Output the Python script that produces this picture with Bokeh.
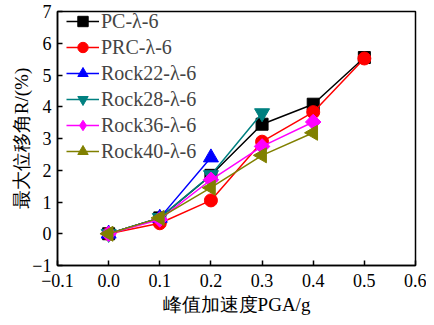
import math
from bokeh.plotting import figure
from bokeh.embed import file_html
from bokeh.resources import INLINE
from bokeh.models import FixedTicker, Range1d, Legend, LegendItem

pga = [0.0, 0.1, 0.2, 0.3, 0.4, 0.5]
pc = [0.0, 0.50, 1.84, 3.45, 4.08, 5.55]
prc = [0.0, 0.33, 1.05, 2.90, 3.83, 5.52]
rock22 = [0.0, 0.50, 2.40]
rock28 = [0.0, 0.50, 1.85, 3.80]
rock36 = [0.0, 0.45, 1.70, 2.75, 3.52]
rock40 = [0.0, 0.50, 1.45, 2.47, 3.18]

# name, values, colour, marker, size, angle, legend marker (None = same)
series = [
    ("PC-\u03bb-6", pc, "black", "square", 12, 0.0, None),
    ("PRC-\u03bb-6", prc, "red", "circle", 13, 0.0, None),
    ("Rock22-\u03bb-6", rock22, "blue", "triangle", 15, 0.0, None),
    ("Rock28-\u03bb-6", rock28, "#008080", "inverted_triangle", 15, 0.0, None),
    ("Rock36-\u03bb-6", rock36, "magenta", "square", 11, math.pi / 4, "diamond"),
    ("Rock40-\u03bb-6", rock40, "olive", "triangle", 15, math.pi / 2, None),
]

x_ticks = [-0.1, 0.0, 0.1, 0.2, 0.3, 0.4, 0.5, 0.6]
y_ticks = [-1, 0, 1, 2, 3, 4, 5, 6, 7]

FONT = "Liberation Serif"

p = figure(width=426, height=317, output_backend="svg", toolbar_location=None,
           x_range=Range1d(-0.1, 0.6), y_range=Range1d(-1, 7),
           min_border_left=57, min_border_right=11, min_border_top=11, min_border_bottom=47)

items = []
for name, ys, col, mk, sz, ang, lmk in series:
    xs = pga[:len(ys)]
    ln = p.line(xs, ys, color=col, line_width=1.5)
    if lmk is not None:
        # smaller marker hidden beneath the real one; gives the legend its glyph
        leg_r = p.scatter(xs, ys, marker=lmk, size=14, color=col)
        p.scatter(xs, ys, marker=mk, size=sz, angle=ang, color=col)
    else:
        leg_r = p.scatter(xs, ys, marker=mk, size=sz, angle=ang, color=col)
    items.append(LegendItem(label=name, renderers=[ln, leg_r]))

legend = Legend(items=items)
p.add_layout(legend, "center")

p.xgrid.visible = False
p.ygrid.visible = False
p.outline_line_color = "black"
p.outline_line_width = 1.5

for ax in (p.xaxis[0], p.yaxis[0]):
    ax.major_tick_in = 5
    ax.major_tick_out = 0
    ax.minor_tick_line_color = None
    ax.axis_line_width = 1.5
    ax.major_tick_line_width = 1.5
    ax.major_label_text_font = FONT
    ax.major_label_text_font_size = "18px"
    ax.major_label_text_color = "black"
    ax.axis_label_text_font = FONT
    ax.axis_label_text_font_size = "19px"
    ax.axis_label_text_font_style = "normal"
    ax.axis_label_text_color = "black"

p.xaxis.ticker = FixedTicker(ticks=x_ticks)
p.yaxis.ticker = FixedTicker(ticks=y_ticks)
p.xaxis.major_label_overrides = {t: ("\u2212%.1f" % abs(t) if t < 0 else "%.1f" % t) for t in x_ticks}
p.yaxis.major_label_overrides = {t: ("\u2212%d" % abs(t) if t < 0 else "%d" % t) for t in y_ticks}
p.xaxis.axis_label = "峰值加速度PGA/g"
p.yaxis.axis_label = "最大位移角R/(%)"
p.xaxis.major_label_standoff = 8
p.yaxis.major_label_standoff = 6
p.xaxis.axis_label_standoff = 4
p.yaxis.axis_label_standoff = -3

lg = legend
lg.location = (9, 101)
lg.border_line_color = None
lg.background_fill_alpha = 0
lg.label_text_font = FONT
lg.label_text_font_size = "20px"
lg.glyph_width = 33
lg.glyph_height = 26
lg.label_height = 26
lg.spacing = 0
lg.padding = 1
lg.margin = 0
lg.label_standoff = 2

open("out.html", "w").write(file_html(p, INLINE))
